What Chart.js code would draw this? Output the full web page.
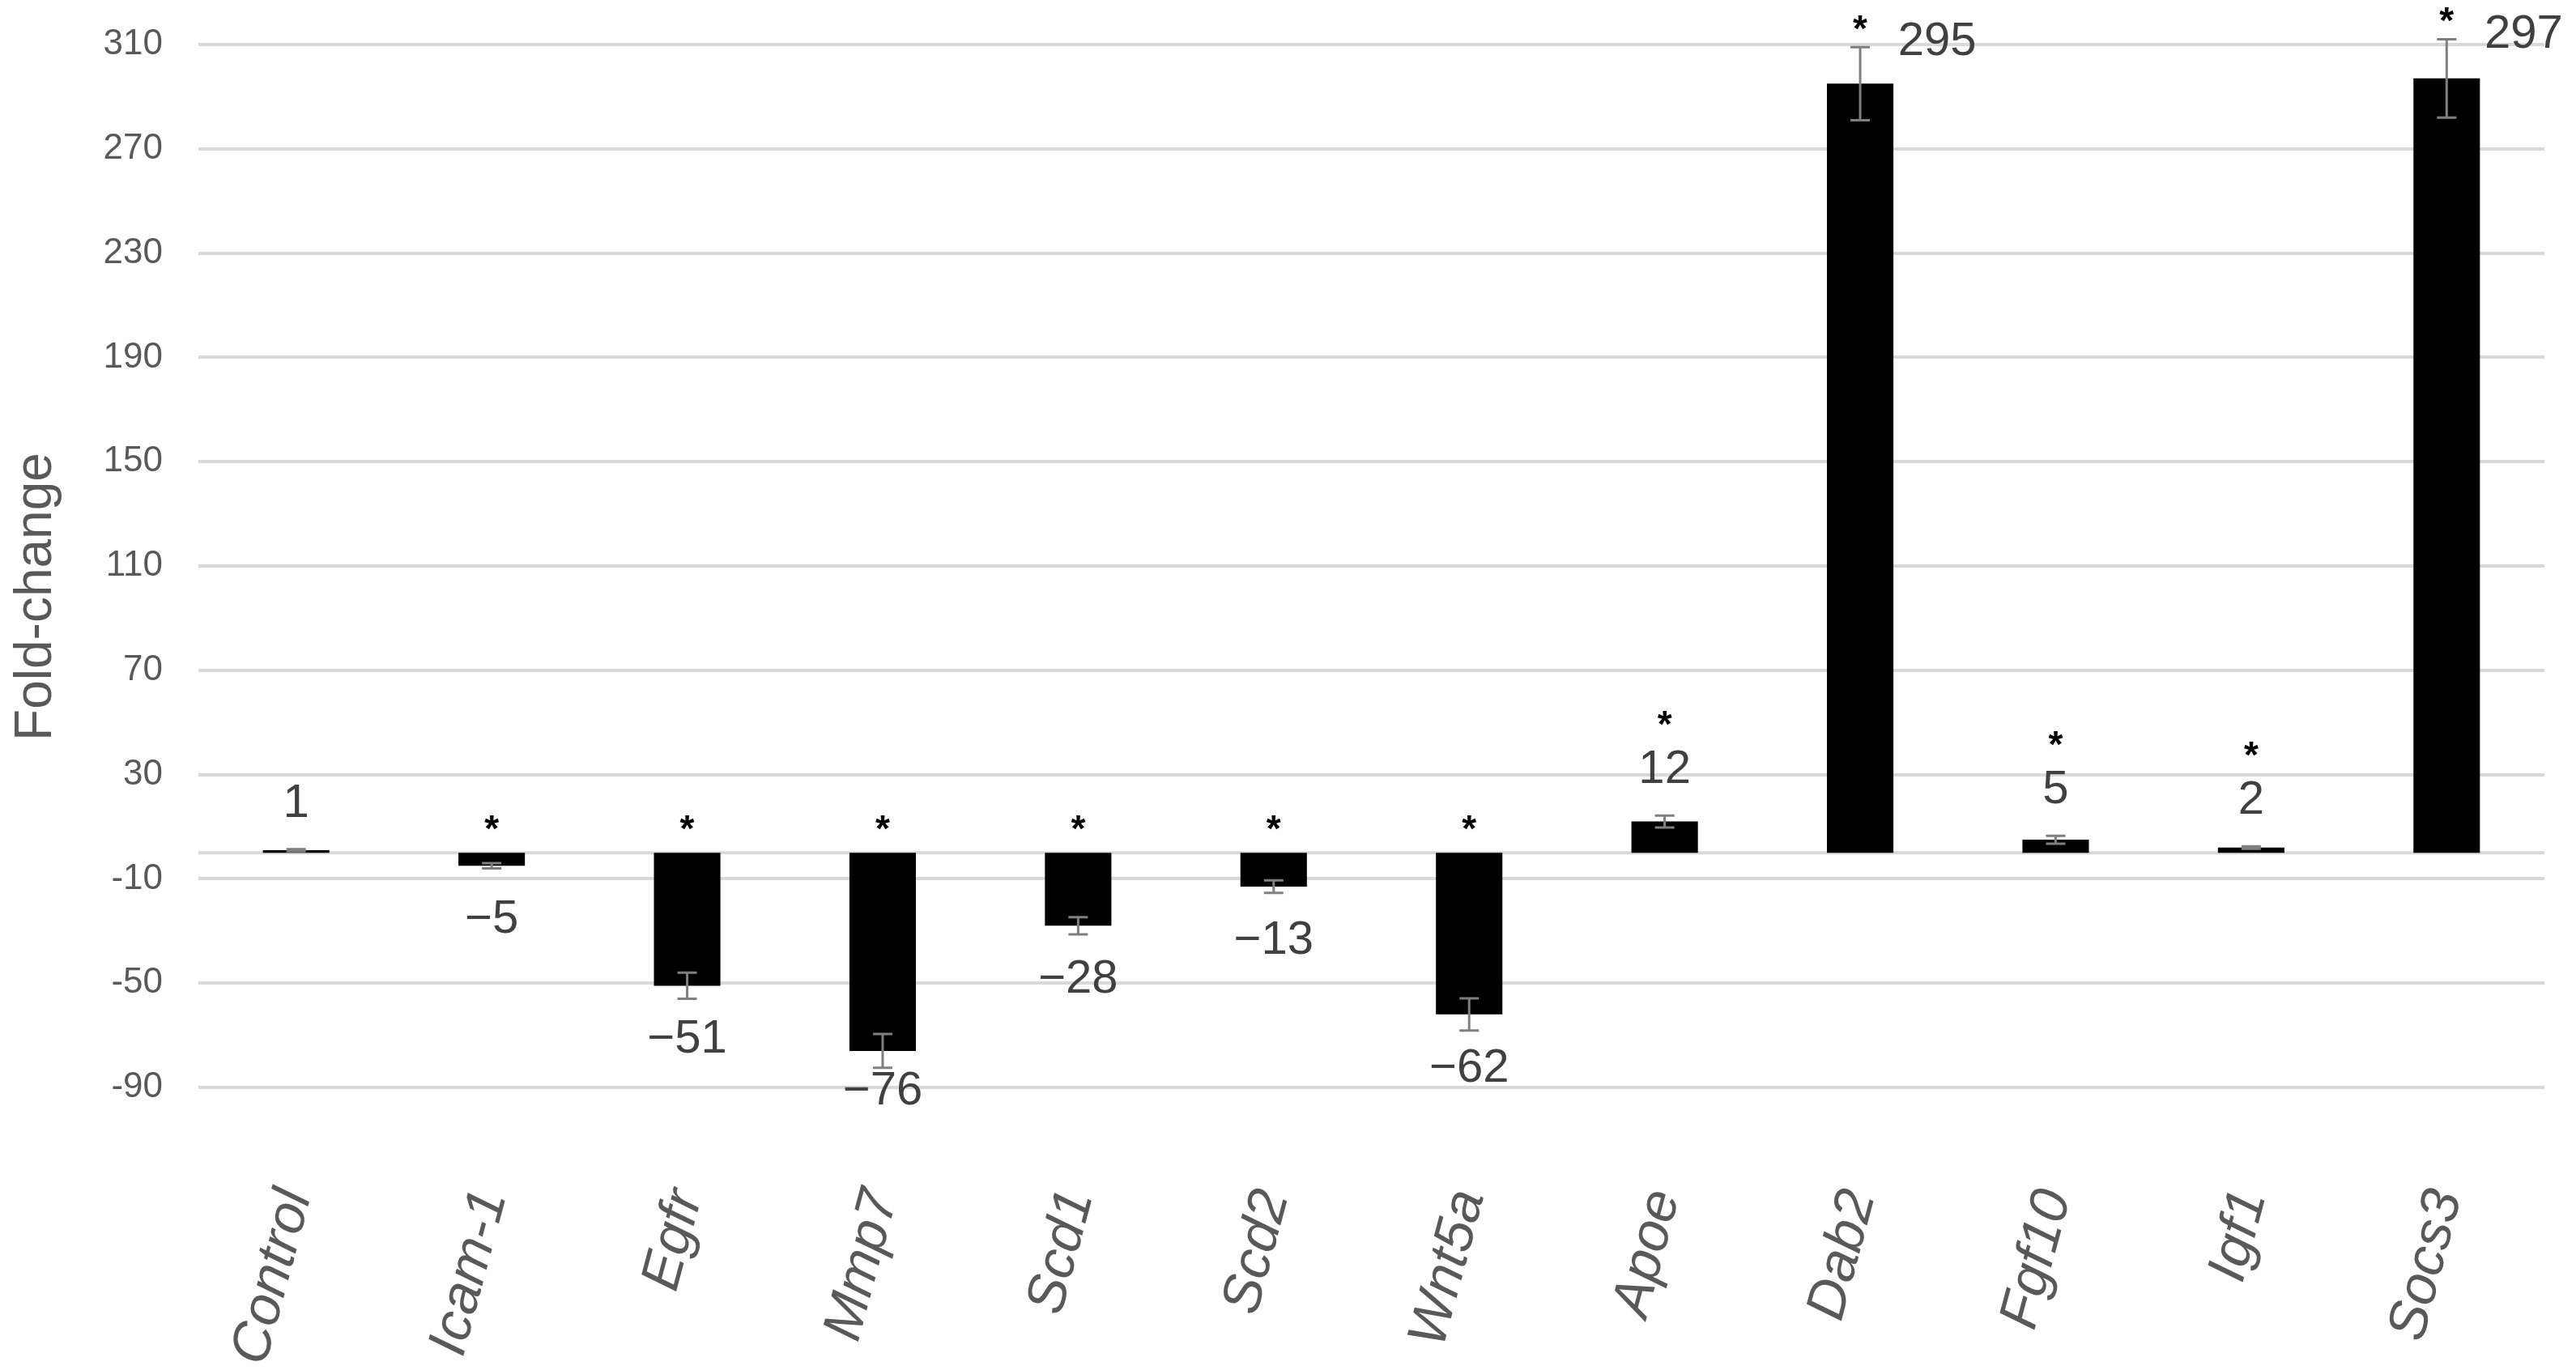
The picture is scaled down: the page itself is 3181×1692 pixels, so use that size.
<!DOCTYPE html>
<html>
<head>
<meta charset="utf-8">
<script src="https://cdn.jsdelivr.net/npm/chart.js@4.4.1/dist/chart.umd.min.js"></script>
<style>
  html, body { margin: 0; padding: 0; background: #ffffff; }
  #wrap { width: 3181px; height: 1692px; }
</style>
</head>
<body>
<div id="wrap"><canvas id="chart" width="3181" height="1692"></canvas></div>
<script>
// Genes on the x axis
const categories = ['Control', 'Icam-1', 'Egfr', 'Mmp7', 'Scd1', 'Scd2', 'Wnt5a', 'Apoe', 'Dab2', 'Fgf10', 'Igf1', 'Socs3'];
// Fold-change per gene
const foldChange = [1, -5, -51, -76, -28, -13, -62, 12, 295, 5, 2, 297];
// Error bar half-lengths
const errors = [0.4, 1, 5, 6.5, 3.3, 2.4, 6.2, 2.3, 14, 1.5, 0.5, 15];
// Significance marks (*)
const significant = [false, true, true, true, true, true, true, true, true, true, true, true];
// Y axis range and step
const yMin = -90;
const yMax = 310;
const yStep = 40;
const yTitle = 'Fold-change';

const FONT = "'Liberation Sans', Arial, sans-serif";
const GREY_TEXT = '#595959';
const GRID = '#d9d9d9';

function fmtValue(v) {
  return v < 0 ? '\u2212' + Math.abs(v) : String(v);
}

// zero line, error bars, value labels, asterisks, y title
const annotate = {
  id: 'annotate',
  beforeDatasetsDraw(chart) {
    const { ctx, chartArea, scales } = chart;
    const y0 = scales.y.getPixelForValue(0);
    ctx.save();
    ctx.strokeStyle = GRID;
    ctx.lineWidth = 4;
    ctx.beginPath();
    ctx.moveTo(chartArea.left, y0);
    ctx.lineTo(chartArea.right, y0);
    ctx.stroke();
    ctx.restore();
  },
  afterDatasetsDraw(chart) {
    const { ctx, chartArea, scales } = chart;
    const yScale = scales.y;
    const meta = chart.getDatasetMeta(0);
    const y0 = yScale.getPixelForValue(0);

    ctx.save();
    meta.data.forEach((bar, i) => {
      const v = foldChange[i];
      const e = errors[i];
      const x = bar.x;
      const yEnd = yScale.getPixelForValue(v);
      const yHi = yScale.getPixelForValue(v + e);
      const yLo = yScale.getPixelForValue(v - e);

      // error bar
      ctx.strokeStyle = '#7f7f7f';
      ctx.lineWidth = 3;
      ctx.beginPath();
      ctx.moveTo(x, yHi);
      ctx.lineTo(x, yLo);
      ctx.moveTo(x - 12, yHi);
      ctx.lineTo(x + 12, yHi);
      ctx.moveTo(x - 12, yLo);
      ctx.lineTo(x + 12, yLo);
      ctx.stroke();

      // value label + asterisk
      ctx.textAlign = 'center';
      ctx.textBaseline = 'middle';
      let lx = x, ly, sx = x, sy;
      if (v > 100) {
        lx = x + 95;
        ly = yHi - 6;
        sy = yHi - 28;
      } else if (v >= 0) {
        ly = yHi - 56;
        sy = ly - 62;
      } else {
        ly = Math.min(yEnd + 67, chartArea.bottom + 5);
        sy = y0 - 35;
      }
      ctx.font = '58px ' + FONT;
      ctx.fillStyle = '#404040';
      ctx.fillText(fmtValue(v), lx, ly);
      if (significant[i]) {
        ctx.font = 'bold 46px ' + FONT;
        ctx.fillStyle = '#000000';
        ctx.fillText('*', sx, sy + 8);
      }
    });

    // y axis title
    ctx.translate(45, 737);
    ctx.rotate(-Math.PI / 2);
    ctx.font = '64px ' + FONT;
    ctx.fillStyle = GREY_TEXT;
    ctx.fillText(yTitle, 0, 0);
    ctx.restore();
  }
};

new Chart(document.getElementById('chart'), {
  type: 'bar',
  data: {
    labels: categories,
    datasets: [{
      data: foldChange,
      backgroundColor: '#000000',
      borderWidth: 0,
      categoryPercentage: 1,
      barPercentage: 0.34,
    }],
  },
  options: {
    responsive: false,
    animation: false,
    devicePixelRatio: 1,
    layout: { padding: { top: 55, right: 39, left: 0, bottom: 0 } },
    plugins: {
      legend: { display: false },
      tooltip: { enabled: false },
    },
    scales: {
      x: {
        grid: { display: false },
        border: { display: false },
        ticks: {
          color: GREY_TEXT,
          font: { family: FONT, size: 68, style: 'italic' },
          minRotation: 75,
          maxRotation: 75,
          padding: 110,
          autoSkip: false,
        },
        afterFit: (scale) => {
          scale.height = 349;
          scale.paddingLeft = 0;
          scale.paddingRight = 0;
        },
      },
      y: {
        min: yMin,
        max: yMax,
        grid: { color: GRID, lineWidth: 4, drawTicks: false },
        border: { display: false },
        ticks: {
          stepSize: yStep,
          color: GREY_TEXT,
          font: { family: FONT, size: 44 },
          padding: 44,
        },
        afterFit: (scale) => {
          scale.width = 245;
          scale.paddingTop = 0;
          scale.paddingBottom = 0;
        },
      },
    },
  },
  plugins: [annotate],
});
</script>
</body>
</html>
